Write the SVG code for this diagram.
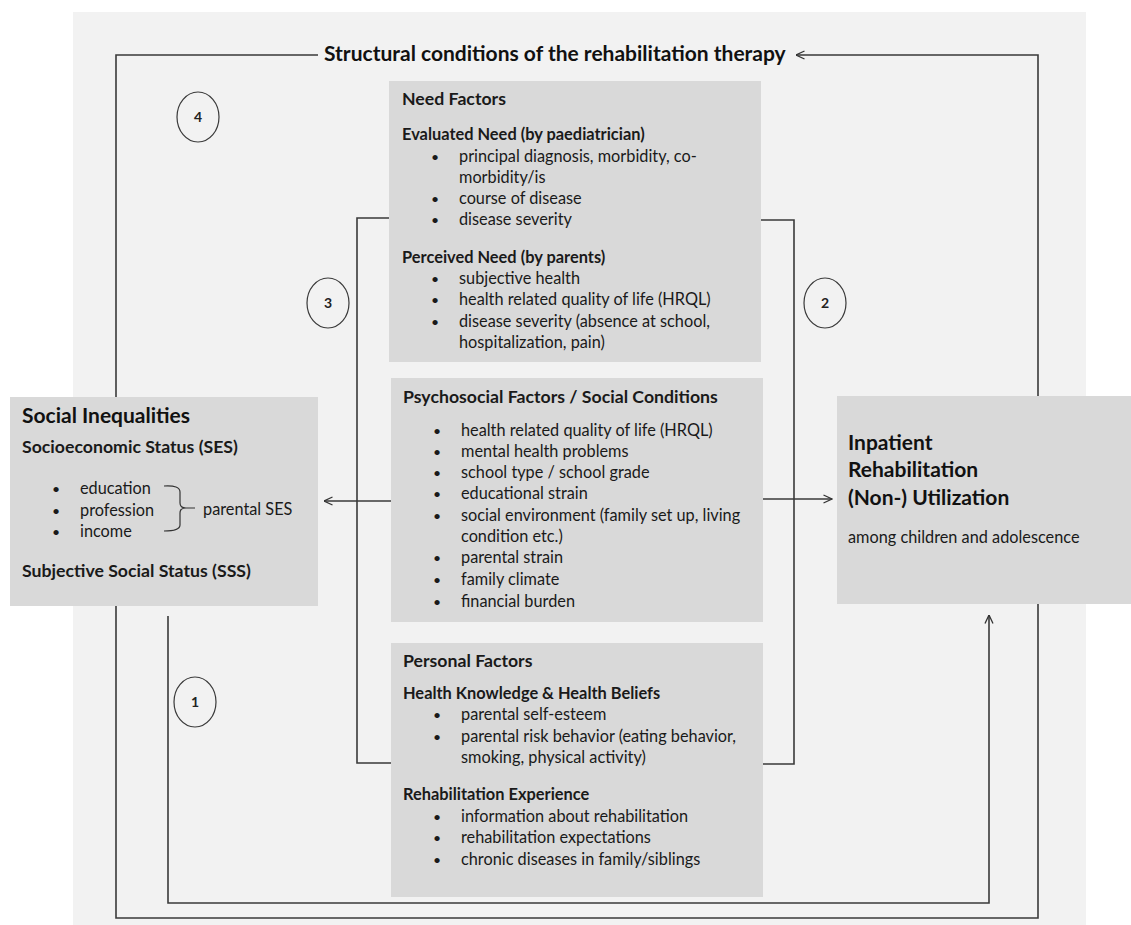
<svg xmlns="http://www.w3.org/2000/svg" width="1131" height="925" viewBox="0 0 1131 925">
<defs>
<marker id="arr" viewBox="0 0 10 10" refX="9.5" refY="5" markerWidth="10" markerHeight="10" markerUnits="userSpaceOnUse" orient="auto">
<path d="M1,1 L9.5,5 L1,9" fill="none" stroke="#333" stroke-width="1.3"/>
</marker>
</defs>
<style>
.bg{fill:#f2f2f2}
.box{fill:#d9d9d9}
.ln{fill:none;stroke:#3a3a3a;stroke-width:1.6}
.t{font-family:Lato,"Liberation Sans",sans-serif;fill:#1a1a1a;font-size:16.3px}
.b{font-weight:bold;font-size:16.4px}
.s{font-weight:bold;font-size:17.7px}
.h{font-family:Lato,"Liberation Sans",sans-serif;fill:#111;font-weight:bold;font-size:21px}
.d{font-size:14px}
.c{fill:none;stroke:#3a3a3a;stroke-width:1.2}
.n{font-family:Lato,"Liberation Sans",sans-serif;font-weight:bold;font-size:14px;fill:#222;text-anchor:middle}
</style>
<rect class="bg" x="73" y="12" width="1013" height="913"/>

<g id="connectors">
<path class="ln" d="M318,55 H116 V918 H1038 V55 H796" marker-end="url(#arr)"/>
<path class="ln" d="M168,616 V903 H989 V615" marker-end="url(#arr)"/>
<path class="ln" d="M389,218 H357 V763 H391"/>
<path class="ln" d="M391,501 H324" marker-end="url(#arr)"/>
<path class="ln" d="M761,220 H794 V764 H763"/>
<path class="ln" d="M763,499 H832" marker-end="url(#arr)"/>
</g>

<g id="title">
<text class="h" x="324" y="61">Structural conditions of the rehabilitation therapy</text>
</g>

<g id="label-4"><ellipse class="c" cx="198" cy="117" rx="21" ry="25"/><text class="n" x="198" y="122">4</text></g>
<g id="label-3"><ellipse class="c" cx="328" cy="303" rx="21" ry="25"/><text class="n" x="328" y="308">3</text></g>
<g id="label-2"><ellipse class="c" cx="825" cy="303" rx="21" ry="25"/><text class="n" x="825" y="308">2</text></g>
<g id="label-1"><ellipse class="c" cx="195" cy="702" rx="21" ry="25"/><text class="n" x="195" y="707">1</text></g>

<g id="need-factors">
<rect class="box" x="389" y="81" width="372" height="281"/>
<text class="t s" x="402" y="105">Need Factors</text>
<text class="t b" x="402" y="140">Evaluated Need (by paediatrician)</text>
<g class="t">
<text class="d" x="431" y="162">•</text><text x="459" y="162">principal diagnosis, morbidity, co-</text>
<text x="459" y="183">morbidity/is</text>
<text class="d" x="431" y="204">•</text><text x="459" y="204">course of disease</text>
<text class="d" x="431" y="225">•</text><text x="459" y="225">disease severity</text>
</g>
<text class="t b" x="402" y="263">Perceived Need (by parents)</text>
<g class="t">
<text class="d" x="431" y="284">•</text><text x="459" y="284">subjective health</text>
<text class="d" x="431" y="305">•</text><text x="459" y="305">health related quality of life (HRQL)</text>
<text class="d" x="431" y="327">•</text><text x="459" y="327">disease severity (absence at school,</text>
<text x="459" y="348">hospitalization, pain)</text>
</g>
</g>

<g id="psychosocial-factors">
<rect class="box" x="391" y="378" width="372" height="244"/>
<text class="t s" x="403" y="403">Psychosocial Factors / Social Conditions</text>
<g class="t">
<text class="d" x="433" y="436">•</text><text x="461" y="436">health related quality of life (HRQL)</text>
<text class="d" x="433" y="457">•</text><text x="461" y="457">mental health problems</text>
<text class="d" x="433" y="478">•</text><text x="461" y="478">school type / school grade</text>
<text class="d" x="433" y="499">•</text><text x="461" y="499">educational strain</text>
<text class="d" x="433" y="521">•</text><text x="461" y="521">social environment (family set up, living</text>
<text x="461" y="542">condition etc.)</text>
<text class="d" x="433" y="563">•</text><text x="461" y="563">parental strain</text>
<text class="d" x="433" y="585">•</text><text x="461" y="585">family climate</text>
<text class="d" x="433" y="607">•</text><text x="461" y="607">financial burden</text>
</g>
</g>

<g id="personal-factors">
<rect class="box" x="391" y="643" width="372" height="254"/>
<text class="t s" x="403" y="667">Personal Factors</text>
<text class="t b" x="403" y="699">Health Knowledge &amp; Health Beliefs</text>
<g class="t">
<text class="d" x="433" y="720">•</text><text x="461" y="720">parental self-esteem</text>
<text class="d" x="433" y="742">•</text><text x="461" y="742">parental risk behavior (eating behavior,</text>
<text x="461" y="763">smoking, physical activity)</text>
</g>
<text class="t b" x="403" y="800">Rehabilitation Experience</text>
<g class="t">
<text class="d" x="433" y="822">•</text><text x="461" y="822">information about rehabilitation</text>
<text class="d" x="433" y="843">•</text><text x="461" y="843">rehabilitation expectations</text>
<text class="d" x="433" y="865">•</text><text x="461" y="865">chronic diseases in family/siblings</text>
</g>
</g>

<g id="social-inequalities">
<rect class="box" x="10" y="397" width="308" height="209"/>
<text class="h" x="22" y="423">Social Inequalities</text>
<text class="t s" x="22" y="453">Socioeconomic Status (SES)</text>
<g class="t">
<text class="d" x="52" y="494">•</text><text x="80" y="494">education</text>
<text class="d" x="52" y="516">•</text><text x="80" y="516">profession</text>
<text class="d" x="52" y="537">•</text><text x="80" y="537">income</text>
<text x="203" y="515">parental SES</text>
</g>
<path d="M164,486 Q180,485 180,492 V503 Q180,508 186,508 H195 M186,508 Q180,508 180,513 V525 Q180,531 164,531" fill="none" stroke="#333" stroke-width="1.2"/>
<text class="t s" x="22" y="577">Subjective Social Status (SSS)</text>
</g>

<g id="inpatient-rehabilitation">
<rect class="box" x="837" y="396" width="294" height="208"/>
<text class="h" x="848" y="450">Inpatient</text>
<text class="h" x="848" y="477">Rehabilitation</text>
<text class="h" x="848" y="505">(Non-) Utilization</text>
<text class="t" x="848" y="543">among children and adolescence</text>
</g>
</svg>
